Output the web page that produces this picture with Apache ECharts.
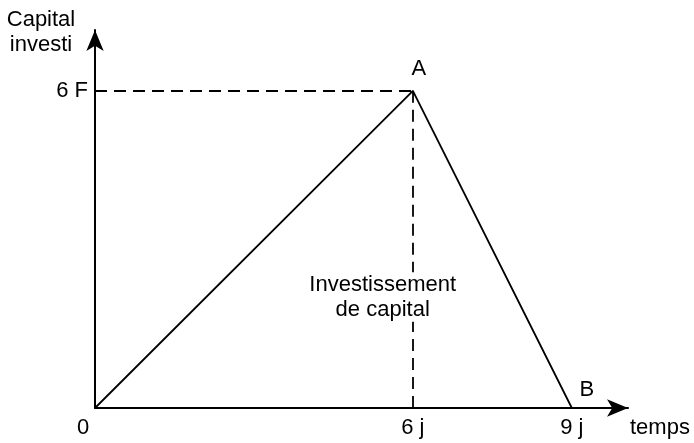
<!DOCTYPE html>
<html>
<head>
<meta charset="utf-8">
<script src="https://cdn.jsdelivr.net/npm/echarts@6/dist/echarts.min.js"></script>
<style>
  html, body { margin: 0; padding: 0; background: #fff; }
  #main { width: 694px; height: 443px; }
</style>
</head>
<body>
<div id="main"></div>
<script>
// points of the capital curve (time in j, capital in F)
var timeValues = [0, 6, 9];
var capitalValues = [0, 6, 0];
var pointNames = ['', 'A', 'B'];

// tick labels
var xTickValues = [0, 6, 9];
var xTickLabels = ['0', '6 j', '9 j'];
var yTickValues = [6];
var yTickLabels = ['6 F'];

// annotation, and the part of the dashed line that it hides
var noteText = 'Investissement\nde capital';
var noteCoord = [5.43, 2.1];
var noteHalfHeight = 0.47;

var xMax = 10.06;
var yMax = 7.15;
var peak = 1;

var font = 'Liberation Sans, Arial, sans-serif';
var fs = 22;
var chart = echarts.init(document.getElementById('main'), null, {renderer: 'canvas'});

var curve = timeValues.map(function (t, i) {
    return {
        value: [t, capitalValues[i]],
        label: {
            show: pointNames[i] !== '',
            formatter: pointNames[i],
            offset: i === peak ? [6, -6] : [15, -2]
        }
    };
});

var xA = timeValues[peak], yA = capitalValues[peak];
var gapLow = noteCoord[1] - noteHalfHeight;
var gapHigh = noteCoord[1] + noteHalfHeight;

chart.setOption({
    animation: false,
    backgroundColor: '#fff',
    grid: {left: 95, right: 66, top: 30, bottom: 35, outerBoundsMode: 'none'},
    xAxis: {
        type: 'value',
        min: 0,
        max: xMax,
        interval: 3,
        name: 'temps',
        nameLocation: 'end',
        nameGap: 2,
        nameTextStyle: {
            color: '#000', fontSize: fs, fontFamily: font,
            align: 'left', verticalAlign: 'top', padding: [9, 0, 0, 0]
        },
        axisLine: {
            lineStyle: {color: '#000', width: 2},
            symbol: ['none', 'arrow'],
            symbolSize: [13, 21]
        },
        axisTick: {show: false},
        splitLine: {show: false},
        axisLabel: {
            margin: 9,
            color: '#000', fontSize: fs, fontFamily: font,
            formatter: function (v) {
                var k = xTickValues.indexOf(v);
                if (k < 0) return '';
                return k === 0 ? '{o|' + xTickLabels[k] + '}' : xTickLabels[k];
            },
            rich: {
                o: {color: '#000', fontSize: fs, fontFamily: font, padding: [0, 24, 0, 0]}
            }
        }
    },
    yAxis: {
        type: 'value',
        min: 0,
        max: yMax,
        interval: 6,
        name: 'Capital\ninvesti',
        nameLocation: 'end',
        nameGap: -2,
        nameTextStyle: {
            color: '#000', fontSize: fs, fontFamily: font, lineHeight: 25,
            align: 'center', verticalAlign: 'middle', padding: [0, 108, 0, 0]
        },
        axisLine: {
            lineStyle: {color: '#000', width: 2},
            symbol: ['none', 'arrow'],
            symbolSize: [13, 21]
        },
        axisTick: {show: false},
        splitLine: {show: false},
        axisLabel: {
            margin: 7,
            color: '#000', fontSize: fs, fontFamily: font,
            formatter: function (v) {
                var k = yTickValues.indexOf(v);
                return k < 0 ? '' : yTickLabels[k];
            }
        }
    },
    series: [{
        type: 'line',
        data: curve,
        symbol: 'circle',
        symbolSize: 0,
        showSymbol: true,
        silent: true,
        itemStyle: {color: '#000'},
        lineStyle: {color: '#000', width: 1.8},
        label: {
            position: 'top',
            color: '#000', fontSize: fs, fontFamily: font
        },
        markLine: {
            silent: true,
            symbol: 'none',
            label: {show: false},
            lineStyle: {color: '#000', width: 1.8, type: [12, 7]},
            data: [
                [{coord: [0, yA]}, {coord: [xA, yA]}],
                [{coord: [xA, yA]}, {coord: [xA, gapHigh]}],
                [{coord: [xA, 0]}, {coord: [xA, gapLow]}]
            ]
        }
    }, {
        type: 'scatter',
        z: 20,
        silent: true,
        symbolSize: 0,
        itemStyle: {opacity: 1},
        data: [noteCoord],
        label: {
            show: true,
            position: 'inside',
            formatter: noteText,
            color: '#000', fontSize: fs, fontFamily: font, lineHeight: 25,
            align: 'center',
            textBorderWidth: 0
        }
    }]
});
</script>
</body>
</html>
